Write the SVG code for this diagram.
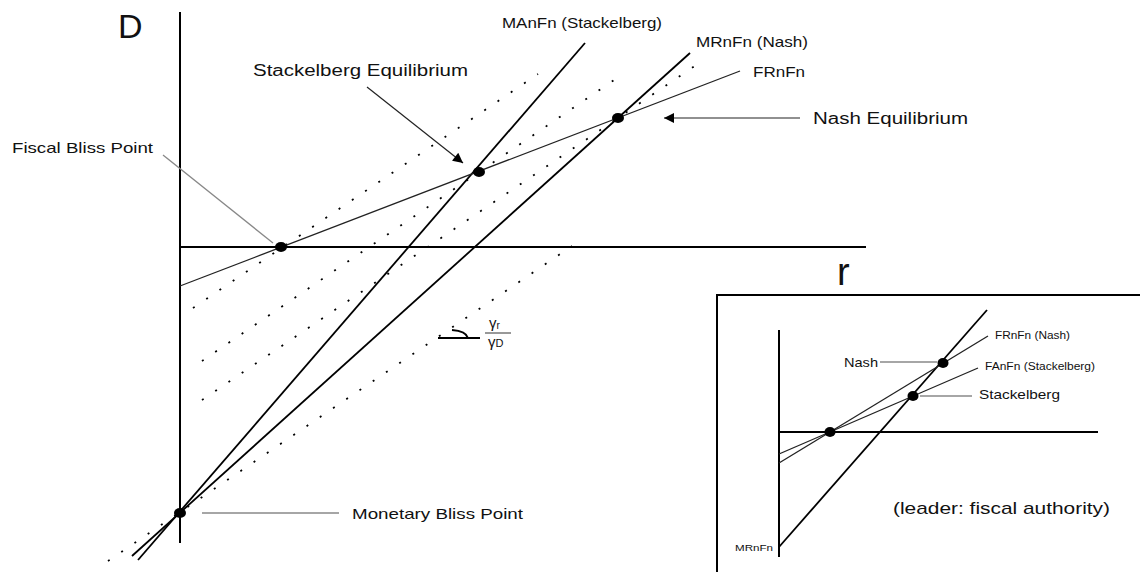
<svg xmlns="http://www.w3.org/2000/svg" width="1140" height="572" viewBox="0 0 1140 572">
<style>
text{font-family:"Liberation Sans",Arial,sans-serif;fill:#111}
.axis{stroke:#000;stroke-width:2;fill:none}
.curve{stroke:#000;stroke-width:1.8;fill:none}
.thin{stroke:#222;stroke-width:1.3;fill:none}
.dot{stroke:#000;stroke-width:1.8;stroke-dasharray:2 14;fill:none}
.lead{stroke:#888;stroke-width:1.3;fill:none}
.pt{fill:#000}
</style>
<defs>
<marker id="ah" viewBox="0 0 10 10" refX="10" refY="5" markerWidth="12" markerHeight="10" markerUnits="userSpaceOnUse" orient="auto">
<path d="M0,0 L10,5 L0,10 z" fill="#000"/>
</marker>
</defs>
<rect width="1140" height="572" fill="#fff"/>
<g id="main-axes">
<line class="axis" x1="180" y1="12" x2="180" y2="543"/>
<line class="axis" x1="180" y1="247" x2="866" y2="247"/>
<text x="118" y="38" font-size="34">D</text>
<text x="837" y="285" font-size="38">r</text>
</g>
<g id="connectors">
<line class="dot" x1="193" y1="308" x2="538" y2="74"/>
<line class="dot" x1="202" y1="361" x2="617" y2="78"/>
<line class="dot" x1="202" y1="400" x2="705" y2="59"/>
<line class="dot" x1="108" y1="561" x2="572" y2="246"/>
<line class="curve" x1="138" y1="560" x2="585" y2="43"/>
<line class="curve" x1="132" y1="556" x2="690" y2="53"/>
<line class="thin" x1="180" y1="286" x2="740" y2="71"/>
<line class="lead" x1="163" y1="155" x2="273" y2="243"/>
<line class="lead" x1="202" y1="513" x2="339" y2="513"/>
<line stroke="#222" stroke-width="1.2" x1="367" y1="87" x2="463" y2="163" marker-end="url(#ah)"/>
<line stroke="#222" stroke-width="1.2" x1="800" y1="118" x2="664" y2="118" marker-end="url(#ah)"/>
</g>
<g id="fiscal-bliss">
<ellipse class="pt" cx="281" cy="247" rx="6" ry="5"/>
<text x="12" y="153" font-size="15" textLength="141" lengthAdjust="spacingAndGlyphs">Fiscal Bliss Point</text>
</g>
<g id="stackelberg-eq">
<ellipse class="pt" cx="479" cy="172" rx="6" ry="5"/>
<text x="253" y="76" font-size="16" textLength="215" lengthAdjust="spacingAndGlyphs">Stackelberg Equilibrium</text>
</g>
<g id="nash-eq">
<ellipse class="pt" cx="618" cy="118" rx="6" ry="5"/>
<text x="813" y="124" font-size="16" textLength="155" lengthAdjust="spacingAndGlyphs">Nash Equilibrium</text>
</g>
<g id="monetary-bliss">
<ellipse class="pt" cx="180" cy="513" rx="6" ry="5"/>
<text x="352" y="519" font-size="15" textLength="171" lengthAdjust="spacingAndGlyphs">Monetary Bliss Point</text>
</g>
<g id="curve-labels">
<text x="502" y="28" font-size="15" textLength="160" lengthAdjust="spacingAndGlyphs">MAnFn (Stackelberg)</text>
<text x="696" y="47" font-size="15" textLength="112" lengthAdjust="spacingAndGlyphs">MRnFn (Nash)</text>
<text x="753" y="77" font-size="15" textLength="52" lengthAdjust="spacingAndGlyphs">FRnFn</text>
</g>
<g id="slope-indicator">
<line stroke="#000" stroke-width="2" x1="438" y1="338" x2="480" y2="338"/>
<path d="M452,330 Q466,331 468,338" stroke="#000" stroke-width="1.8" fill="none"/>
<line stroke="#333" stroke-width="1" x1="485" y1="333" x2="511" y2="333"/>
<text x="489" y="328" font-size="15">γ<tspan font-size="10" dy="1">r</tspan></text>
<text x="488" y="347" font-size="15">γ<tspan font-size="11" dy="0">D</tspan></text>
</g>
<g id="inset">
<path d="M717,572 L717,295 L1140,295" stroke="#000" stroke-width="2" fill="none"/>
<line class="axis" x1="779" y1="330" x2="779" y2="557"/>
<line class="curve" x1="779" y1="432" x2="1098" y2="432"/>
<line class="curve" x1="779" y1="547" x2="987" y2="310"/>
<line class="thin" x1="779" y1="463" x2="988" y2="336"/>
<line class="thin" x1="779" y1="454" x2="978" y2="368"/>
<ellipse class="pt" cx="830" cy="432" rx="5.5" ry="5"/>
<ellipse class="pt" cx="943" cy="363" rx="5.5" ry="5"/>
<ellipse class="pt" cx="913" cy="396" rx="5.5" ry="5"/>
<line class="lead" x1="880" y1="362" x2="937" y2="362"/>
<line class="lead" x1="920" y1="396" x2="972" y2="396"/>
<text x="995" y="339" font-size="10" textLength="75" lengthAdjust="spacingAndGlyphs">FRnFn (Nash)</text>
<text x="985" y="370" font-size="10" textLength="110" lengthAdjust="spacingAndGlyphs">FAnFn (Stackelberg)</text>
<text x="844" y="367" font-size="13" textLength="34" lengthAdjust="spacingAndGlyphs">Nash</text>
<text x="979" y="399" font-size="13" textLength="81" lengthAdjust="spacingAndGlyphs">Stackelberg</text>
<text x="893" y="514" font-size="17" textLength="217" lengthAdjust="spacingAndGlyphs">(leader: fiscal authority)</text>
<text x="735" y="551" font-size="9" textLength="38" lengthAdjust="spacingAndGlyphs">MRnFn</text>
</g>
</svg>
